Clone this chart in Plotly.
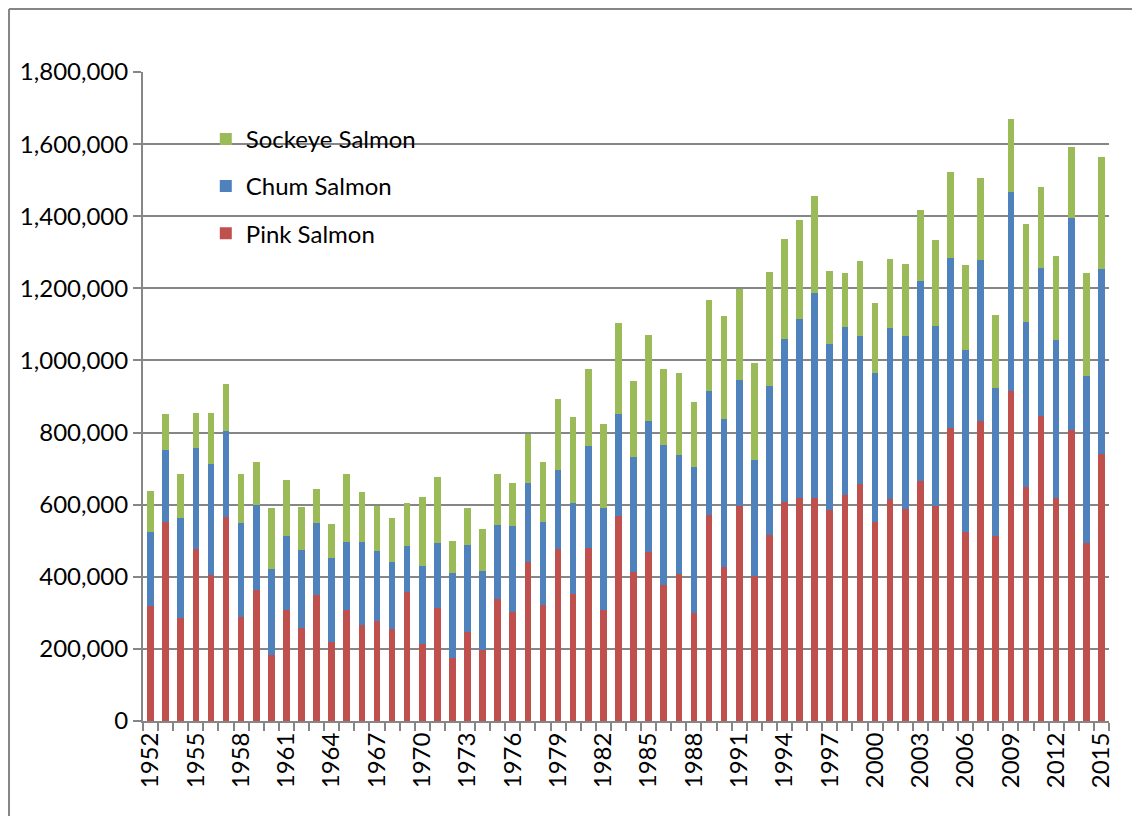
import plotly.graph_objects as go

years = list(range(1952, 2016))

pink = [320, 551, 285, 476, 406, 565, 289, 364, 183, 309,
        257, 350, 219, 309, 267, 278, 255, 357, 214, 313,
        175, 248, 196, 338, 303, 442, 321, 476, 353, 479,
        309, 569, 414, 469, 378, 407, 300, 572, 427, 597,
        402, 517, 608, 619, 618, 585, 627, 656, 551, 615,
        587, 666, 595, 813, 523, 833, 512, 915, 648, 845,
        619, 806, 493, 741]
chum = [205, 201, 278, 280, 308, 240, 261, 236, 238, 204,
        216, 199, 232, 188, 230, 193, 186, 129, 216, 181,
        236, 239, 219, 207, 237, 219, 231, 221, 251, 283,
        281, 282, 319, 364, 387, 330, 404, 342, 411, 348,
        321, 411, 452, 497, 568, 461, 465, 413, 415, 474,
        480, 555, 501, 471, 506, 445, 412, 551, 460, 412,
        438, 589, 464, 512]
sockeye = [114, 99, 122, 97, 141, 129, 135, 118, 169, 156,
           121, 95, 96, 188, 139, 124, 123, 120, 190, 182,
           87, 103, 118, 139, 119, 135, 166, 197, 240, 214,
           233, 253, 210, 237, 212, 227, 181, 255, 286, 254,
           269, 316, 276, 273, 271, 203, 150, 208, 193, 193,
           200, 195, 238, 239, 235, 228, 202, 203, 271, 225,
           233, 196, 285, 311]

pink = [v * 1000 for v in pink]
chum = [v * 1000 for v in chum]
sockeye = [v * 1000 for v in sockeye]

label_years = years[::3]
y_ticks = list(range(0, 1800001, 200000))

FONT = "Lato, 'Open Sans', sans-serif"
GRID = "#868686"

fig = go.Figure()
fig.add_trace(go.Bar(x=years, y=pink, name="Pink Salmon", marker_color="#C0504D",
                     marker_line_width=0, legendgroup="p", legendrank=3))
fig.add_trace(go.Bar(x=years, y=chum, name="Chum Salmon", marker_color="#4F81BD",
                     marker_line_width=0, legendgroup="c", legendrank=2))
fig.add_trace(go.Bar(x=years, y=sockeye, name="Sockeye Salmon", marker_color="#9BBB59",
                     marker_line_width=0, legendgroup="s", legendrank=1))

fig.update_layout(
    width=1132, height=808,
    margin=dict(l=135, r=31, t=64, b=95),
    barmode="stack", bargap=0.56,
    plot_bgcolor="white", paper_bgcolor="white",
    font=dict(family=FONT, size=24, color="#000000"),
    legend=dict(x=0.065, y=0.931, xanchor="left", yanchor="top",
                traceorder="grouped", tracegroupgap=13,
                bgcolor="rgba(0,0,0,0)", font=dict(size=24)),
    shapes=[
        dict(type="line", xref="paper", yref="paper", x0=-0.1387, x1=1.04,
             y0=1.097, y1=1.097, line=dict(color=GRID, width=2)),
        dict(type="line", xref="paper", yref="paper", x0=-0.1387, x1=-0.1387,
             y0=1.097, y1=-0.16, line=dict(color=GRID, width=2)),
    ],
)

fig.update_xaxes(
    range=[1951.5, 2015.5],
    tickmode="array", tickvals=label_years, ticktext=[str(y) for y in label_years],
    tickangle=-90, ticks="", showgrid=False,
    showline=True, linecolor=GRID, linewidth=2,
    tickfont=dict(size=24),
    minor=dict(tick0=1951.5, dtick=1, ticks="outside", ticklen=8, tickcolor=GRID,
               tickwidth=2, showgrid=False),
)
fig.update_yaxes(
    range=[0, 1800000],
    tickmode="array", tickvals=y_ticks,
    ticktext=[f"{v:,}" for v in y_ticks],
    ticks="outside", ticklen=8, tickcolor=GRID, tickwidth=2,
    showgrid=True, gridcolor=GRID, gridwidth=2,
    showline=True, linecolor=GRID, linewidth=2,
    zeroline=False, tickfont=dict(size=24),
)

fig.write_html("out.html")
